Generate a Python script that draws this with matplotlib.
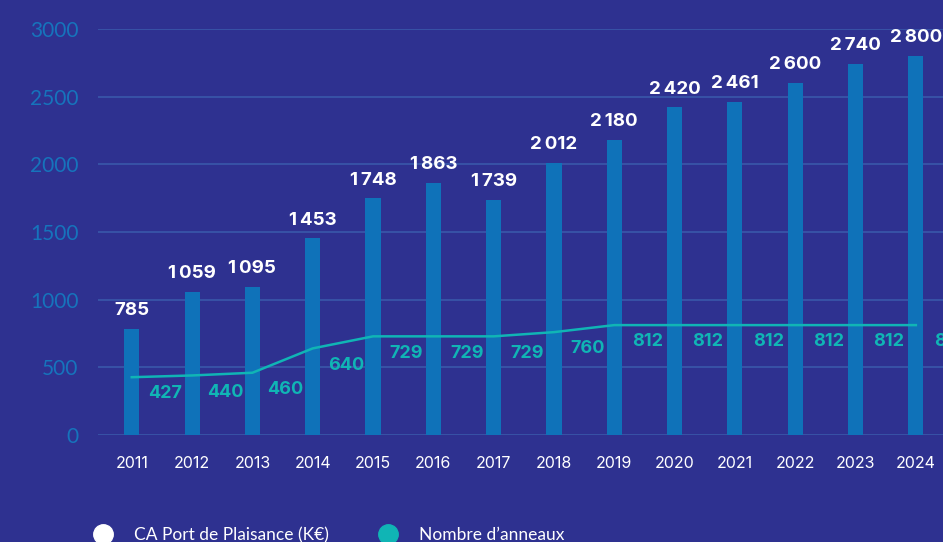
import matplotlib.pyplot as plt
from matplotlib.lines import Line2D

# données
years = ['2011', '2012', '2013', '2014', '2015', '2016', '2017',
         '2018', '2019', '2020', '2021', '2022', '2023', '2024']
ca_port = [785, 1059, 1095, 1453, 1748, 1863, 1739,
           2012, 2180, 2420, 2461, 2600, 2740, 2800]
anneaux = [427, 440, 460, 640, 729, 729, 729,
           760, 812, 812, 812, 812, 812, 812]
yticks = [0, 500, 1000, 1500, 2000, 2500, 3000]
legend_labels = ['CA Port de Plaisance (K€)', 'Nombre d\u2019anneaux']

BG = '#2e3190'
BAR = '#0f72b9'
TEAL = '#10b5b5'
GRID = '#3a58aa'
TICK = '#1674bc'


def fmt(v):
    # séparateur de milliers : espace fine
    return f'{v:,}'.replace(',', '\u2009')


fig = plt.figure(figsize=(9.43, 5.42), dpi=100, facecolor=BG)
ax = fig.add_axes([98 / 943, 1 - 435 / 542, 1 - 98 / 943, (435 - 29) / 542])
ax.set_facecolor(BG)

x = list(range(len(years)))
ax.bar(x, ca_port, width=0.25, color=BAR, zorder=2)
ax.plot(x, anneaux, color=TEAL, lw=1.8, zorder=3)

for xi, v in zip(x, ca_port):
    ax.annotate(fmt(v), (xi, v), xytext=(0, 7), textcoords='offset points',
                ha='center', va='bottom', color='white', fontsize=13.5,
                fontweight='bold', family=['Inter', 'DejaVu Sans'],
                annotation_clip=False)

for xi, v in zip(x, anneaux):
    ax.annotate(fmt(v), (xi, v), xytext=(24, -12), textcoords='offset points',
                ha='center', va='center', color=TEAL, fontsize=13,
                fontweight='bold', family=['Inter', 'DejaVu Sans'],
                annotation_clip=False)

ax.set_xlim(-0.56, 13.45)
ax.set_ylim(0, 3000)
ax.set_yticks(yticks)
ax.set_yticklabels([str(t) for t in yticks], color=TICK, fontsize=15,
                   family=['Lato', 'DejaVu Sans'])
ax.set_xticks(x)
ax.set_xticklabels(years, color='white', fontsize=11.5,
                   family=['Inter', 'DejaVu Sans'])
ax.tick_params(axis='both', length=0)
ax.tick_params(axis='y', pad=14)
ax.tick_params(axis='x', pad=15)
ax.grid(axis='y', color=GRID, lw=1.2, zorder=0)
ax.set_axisbelow(True)
for s in ax.spines.values():
    s.set_visible(False)

handles = [Line2D([], [], marker='o', ls='', markersize=14, color='white'),
           Line2D([], [], marker='o', ls='', markersize=14, color=TEAL)]
leg = fig.legend(handles, legend_labels, loc='center left',
                 bbox_to_anchor=(70 / 943, 1 - 535 / 542), ncol=2,
                 frameon=False, handletextpad=0.8, columnspacing=2.4,
                 prop={'family': ['Lato', 'DejaVu Sans'], 'size': 12.5})
for t in leg.get_texts():
    t.set_color('white')

fig.savefig('out.png', dpi=100, facecolor=BG)
